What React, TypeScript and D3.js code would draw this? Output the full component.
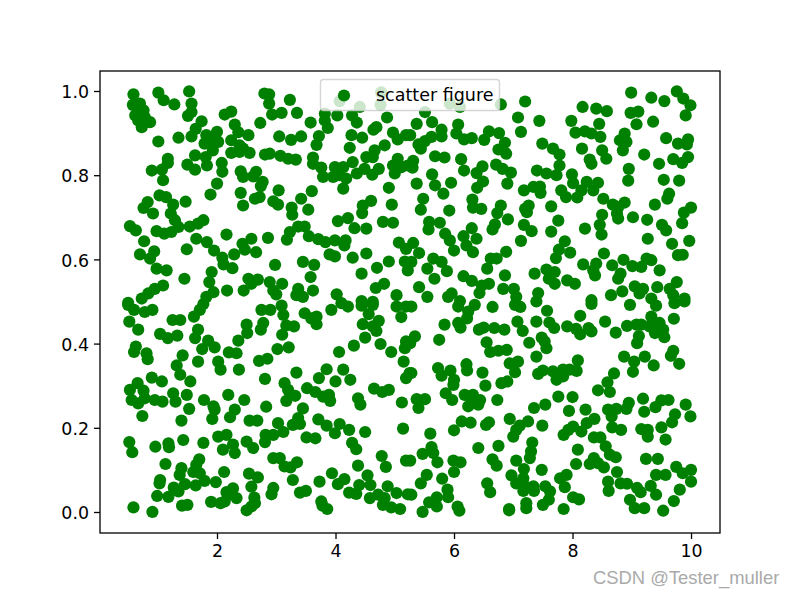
import React, { useEffect, useRef } from "react";
import * as d3 from "d3";

type P = [number, number];

const seriesLabel = "scatter figure";
const watermark = "CSDN @Tester_muller";
const xTicks = [2, 4, 6, 8, 10];
const yTicks = [0, 0.2, 0.4, 0.6, 0.8, 1.0];

const upperLeft: P[] = [
[.59,.993],[1.01,.997],[1.53,1.0],[1.10,.979],[1.28,.969],[1.57,.971],[1.57,.951],[1.51,.942],[.58,.968],[.70,.971],[.76,.955],[.62,.943],[.67,.931],[.73,.915],[.87,.927],[.78,.939],[.67,.951],
[1.01,.881],[1.35,.890],[1.57,.893],[1.74,.929],[1.64,.911],[2.13,.945],[2.24,.952],[2.30,.921],[2.36,.903],[2.53,.896],[1.82,.896],[2.0,.904],[1.79,.876],[1.93,.860],[2.02,.880],[1.91,.884],[1.82,.880],
[2.24,.884],[2.38,.872],[2.24,.854],[2.38,.856],[2.55,.854],[2.44,.864],[2.80,.995],[2.88,.993],[2.88,.971],[3.23,.980],[3.09,.949],[2.93,.945],[3.35,.949],[2.73,.925],[3.58,.926],[3.82,.947],[3.82,.931],[3.87,.913],[4.03,.943],[4.28,.943],[4.36,.926],[4.87,.938],
[4.07,.977],[4.41,.963],[4.76,.968],[4.77,.998],[4.69,.915],[4.64,.909],[3.05,.893],[3.25,.885],[3.42,.893],[3.72,.894],[3.68,.873],[4.27,.896],[4.45,.890],[4.24,.866],[4.97,.902],[5.05,.886],[4.83,.872],[4.66,.860],[4.52,.844],[4.63,.844],[5.19,.896],
[2.81,.850],[2.89,.852],[3.07,.847],[3.20,.840],[3.33,.838],[3.62,.843],[3.62,.828],[3.76,.819],[3.79,.797],[3.99,.820],[3.96,.797],[4.13,.820],[4.29,.832],[4.18,.793],[4.07,.801],[4.13,.769],[4.36,.805],[4.49,.816],[4.62,.802],[4.73,.816],
[4.97,.824],[5.05,.840],[5.0,.805],[5.11,.820],[5.22,.824],[4.90,.771],[4.95,.731],[1.17,.840],[1.17,.830],[.90,.812],[1.07,.814],[1.09,.789],[1.50,.826],[1.63,.814],[1.63,.848],[1.81,.844],[1.83,.824],[2.08,.830],[2.09,.809],[2.0,.781],[1.89,.755],
[2.40,.810],[2.44,.797],[2.66,.809],[2.61,.798],[2.77,.785],[2.74,.775],[3.04,.765],[2.40,.759],[2.44,.729],[2.64,.745],[2.72,.749],[2.95,.739],[3.03,.731],[3.42,.745],[3.60,.763],[3.54,.719],[3.26,.724],[3.27,.707],[4.60,.740],[4.46,.729],[4.45,.711],
[1.03,.753],[1.14,.749],[.83,.737],[.76,.723],[.92,.710],[1.47,.738],[1.26,.731],[1.22,.710],[.53,.680],[.63,.670],[.98,.668],[1.11,.662],[1.23,.666],[1.35,.678],[1.29,.694],[1.54,.679],[1.68,.686],[1.77,.694],
[.77,.644],[.70,.613],[.94,.620],[.87,.603],[.98,.579],[1.15,.575],[1.49,.625],[1.65,.650],[1.83,.642],[1.95,.622],[2.09,.605],[2.16,.660],[2.11,.589],[2.26,.580],[2.29,.613],[2.43,.638],[2.58,.650],[2.47,.624],[2.66,.618],[2.86,.652],
[3.23,.666],[3.18,.648],[3.37,.679],[3.48,.679],[3.55,.656],[3.71,.649],[3.83,.642],[3.99,.646],[4.15,.634],[4.17,.646],[4.04,.692],[4.21,.699],[4.32,.675],[4.52,.674],[4.80,.690],[4.97,.688],
[5.07,.641],[5.19,.626],[3.90,.613],[3.99,.608],[4.29,.605],[4.52,.615],[4.90,.596],[5.17,.596],[4.70,.581],[4.44,.567],[5.22,.575],[2.98,.588],[3.45,.595],[3.64,.588],[3.58,.559],
[1.91,.571],[1.45,.555],[1.87,.547],[1.09,.539],[.95,.531],[.84,.520],[.73,.508],[.50,.498],[1.94,.523],[1.82,.512],[2.17,.527],[2.53,.555],[2.69,.553],[2.58,.543],[2.45,.527],[2.89,.547],[3.10,.543],[2.95,.527],[3.0,.518],[3.37,.531],[3.34,.516],[3.45,.512],[3.62,.527],[4.02,.518],[4.68,.533],[4.82,.543],[5.03,.516],[4.44,.502],[4.63,.500],
];

const upperRight: P[] = [
[5.51,.951],[5.93,.971],[6.10,.963],[6.79,.969],[7.20,.976],[5.37,.923],[5.63,.927],[5.79,.909],[5.79,.893],[5.62,.892],[5.51,.882],[5.40,.874],[5.44,.864],[5.26,.896],
[6.07,.921],[6.04,.900],[6.17,.886],[6.30,.889],[6.51,.885],[6.59,.905],[6.76,.901],[6.86,.878],[6.75,.862],[6.88,.852],[6.71,.826],[6.82,.816],[6.96,.807],[6.90,.781],[7.08,.938],[7.44,.930],[7.13,.904],
[5.68,.846],[5.84,.843],[5.31,.835],[5.30,.819],[5.63,.803],[5.68,.777],[5.37,.781],[5.95,.783],[5.82,.757],[6.12,.839],[6.17,.812],[6.38,.806],[6.48,.822],[6.49,.786],[6.39,.771],
[5.48,.745],[5.44,.719],[5.92,.717],[6.31,.743],[6.32,.724],[6.46,.721],[6.79,.729],[6.73,.711],[6.91,.696],[6.69,.684],[6.65,.672],[7.49,.876],[7.67,.864],[7.78,.850],[7.78,.824],[7.40,.812],[7.56,.805],[7.73,.801],
[7.18,.765],[7.34,.773],[7.45,.774],[7.46,.759],[7.81,.765],[7.89,.749],[7.99,.803],[8.01,.782],[8.08,.748],[8.15,.765],[8.24,.785],[8.35,.765],[8.43,.783],[8.52,.745],
[7.98,.930],[8.17,.963],[8.40,.959],[8.58,.953],[8.45,.923],[8.05,.902],[8.21,.905],[8.32,.900],[8.47,.892],[8.16,.864],[8.50,.860],[8.57,.840],[8.29,.838],[8.32,.828],
[8.99,.997],[9.33,.985],[9.55,.977],[9.76,1.0],[9.87,.983],[9.99,.967],[9.91,.943],[8.98,.949],[9.11,.952],[9.08,.922],[9.36,.928],[8.88,.900],[8.80,.884],[8.91,.880],[8.85,.860],[9.21,.850],[9.46,.828],
[9.58,.889],[9.78,.876],[9.95,.886],[9.93,.874],[9.70,.839],[9.85,.830],[9.95,.844],[8.95,.816],[8.94,.788],[9.54,.790],[9.80,.788],[9.63,.757],[9.60,.745],[9.39,.731],[10.0,.724],[9.88,.712],[9.85,.687],
[8.68,.731],[8.88,.736],[8.77,.725],[8.75,.710],[8.77,.698],[8.50,.707],[8.46,.683],[8.49,.660],[8.21,.674],[9.02,.701],[9.26,.695],[9.51,.683],[9.58,.670],[9.27,.650],[9.68,.638],[9.97,.645],[9.78,.611],[9.86,.612],
[7.64,.727],[7.76,.693],[7.64,.667],[7.26,.729],[7.20,.721],[7.23,.713],[7.18,.683],[7.31,.668],[7.13,.645],[5.58,.690],[5.76,.688],[5.57,.672],[5.85,.662],[5.93,.646],[6.0,.622],[6.30,.675],[6.16,.656],[6.38,.650],[6.21,.634],[6.32,.618],
[5.31,.640],[5.41,.616],[5.28,.595],[5.55,.579],[5.65,.603],[5.79,.595],[5.88,.573],[5.67,.555],[5.41,.535],[5.55,.512],[6.16,.561],[6.30,.550],[6.47,.539],[6.59,.543],[6.43,.521],[5.96,.520],[5.90,.512],[6.10,.502],
[6.62,.603],[6.72,.603],[6.56,.579],[6.88,.619],[6.86,.563],[6.83,.531],[7.01,.531],[7.05,.512],[7.42,.521],[7.36,.567],[7.87,.644],[7.77,.624],[7.72,.604],[7.96,.617],[8.53,.615],[8.18,.589],[8.40,.591],[8.35,.575],[8.38,.563],[8.67,.587],[8.81,.567],[8.77,.555],
[7.56,.577],[7.70,.571],[7.60,.555],[7.70,.543],[7.91,.551],[8.04,.543],[8.86,.600],[9.01,.585],[9.16,.583],[9.25,.603],[9.33,.599],[9.47,.575],[9.05,.537],[9.19,.531],[9.13,.520],[9.43,.535],[8.84,.525],[8.65,.516],[8.32,.504],[9.33,.508],[9.64,.531],[9.76,.547],[9.70,.516],[9.89,.508],
];

const lowerLeft: P[] = [
[.50,.493],[.60,.481],[.78,.476],[.91,.481],[.52,.453],[.67,.434],[1.71,.481],[1.77,.495],[1.61,.465],[1.25,.457],[1.38,.457],[1.04,.424],[1.17,.414],[1.33,.420],[1.68,.434],[1.63,.414],[1.85,.408],[1.75,.388],[1.96,.392],
[.63,.394],[.60,.381],[.81,.378],[.83,.364],[1.42,.373],[1.32,.349],[1.68,.358],[1.38,.327],[2.02,.358],[2.06,.339],[2.20,.380],[2.33,.378],[2.36,.408],[2.50,.446],[2.51,.426],[2.37,.339],
[2.75,.481],[2.90,.481],[3.09,.491],[3.12,.469],[2.78,.450],[2.74,.434],[3.17,.444],[3.30,.442],[3.10,.422],[3.48,.473],[3.68,.465],[3.68,.447],[3.59,.461],[3.93,.481],[4.10,.497],[4.21,.489],[4.44,.491],[4.63,.493],[4.56,.471],[4.46,.447],[4.73,.455],[4.63,.442],[4.69,.431],[4.50,.415],[4.31,.396],[4.06,.381],[4.76,.400],[4.94,.381],
[5.03,.489],[5.11,.464],[5.19,.489],[5.19,.406],[5.17,.390],[5.15,.358],[5.19,.319],[5.25,.331],[3.02,.388],[3.21,.392],[2.71,.360],[2.85,.365],[3.34,.332],[2.81,.317],[3.14,.307],[3.20,.291],[3.32,.277],[3.17,.265],
[3.85,.340],[3.72,.319],[4.13,.339],[4.25,.315],[4.0,.311],[3.52,.295],[3.66,.286],[3.79,.275],[3.89,.279],[3.91,.265],[4.65,.294],[4.79,.286],[4.90,.291],[4.38,.271],[4.42,.256],[5.12,.261],
[.90,.320],[1.07,.311],[.66,.307],[.53,.291],[.76,.289],[.56,.267],[.67,.259],[.78,.271],[.95,.267],[1.08,.263],[.74,.229],[1.26,.283],[1.30,.263],[1.49,.279],[1.55,.311],[1.53,.246],[1.40,.218],
[1.78,.267],[2.19,.279],[2.46,.267],[1.94,.252],[1.96,.244],[1.92,.222],[2.30,.244],[2.22,.226],[2.83,.251],[2.55,.218],[2.68,.218],[3.45,.247],[3.37,.224],[3.40,.210],[3.28,.208],[3.03,.212],[3.12,.191],[2.95,.184],[2.82,.184],[2.81,.167],
[3.71,.221],[3.85,.206],[3.99,.188],[4.07,.210],[4.23,.196],[4.50,.191],[5.14,.199],[3.51,.178],[3.66,.176],[4.28,.165],[4.35,.150],[.52,.167],[.57,.143],[.96,.156],[1.18,.164],[1.19,.155],[1.43,.172],[1.77,.165],
[2.02,.180],[2.16,.184],[2.10,.149],[2.27,.161],[2.30,.141],[2.50,.168],[2.61,.153],[2.95,.129],[3.06,.129],[3.14,.109],[3.24,.107],[3.35,.119],[4.78,.134],[4.85,.108],[5.19,.123],[4.38,.111],
[1.13,.115],[1.40,.105],[1.37,.089],[1.70,.126],[1.65,.113],[1.60,.096],[1.71,.093],[2.12,.096],[1.04,.077],[1.03,.069],[1.27,.059],[1.46,.067],[1.35,.050],[1.64,.064],[1.79,.075],[1.98,.072],
[2.54,.092],[2.69,.083],[2.58,.061],[3.28,.077],[2.95,.058],[2.92,.043],[3.40,.047],[3.50,.051],[3.73,.073],[3.94,.093],[4.04,.067],[4.15,.079],[4.54,.088],[4.59,.065],[4.40,.065],[4.23,.047],[4.35,.044],
[4.88,.062],[5.03,.046],[5.22,.043],[4.58,.034],[4.72,.042],[4.83,.034],[4.80,.018],[4.94,.012],[5.09,.008],[.99,.039],[1.18,.037],[.59,.012],[.91,.001],[1.41,.016],[1.50,.018],
[1.90,.025],[2.06,.022],[2.13,.026],[2.16,.048],[2.27,.057],[2.24,.043],[2.33,.034],[2.63,.035],[2.64,.022],[2.50,.005],[2.58,.014],[3.76,.026],[3.78,.016],[3.86,.008],
];

const lowerRight: P[] = [
[5.28,.489],[5.34,.418],[5.26,.402],[5.75,.410],[5.84,.446],[6.07,.489],[6.35,.493],[6.24,.477],[6.22,.461],[6.07,.450],[6.11,.439],[6.65,.488],[6.42,.434],[6.50,.439],[6.68,.438],[6.85,.434],[6.55,.404],[6.61,.381],[6.75,.384],[6.89,.386],
[7.03,.493],[7.12,.488],[7.07,.453],[7.16,.431],[7.39,.501],[7.39,.453],[7.57,.479],[7.61,.451],[7.69,.438],[7.27,.403],[7.48,.415],[7.53,.406],[7.56,.390],[7.39,.370],
[7.91,.442],[8.06,.436],[8.13,.423],[8.27,.438],[8.32,.430],[8.13,.467],[8.32,.495],[8.55,.453],[8.73,.427],[8.97,.493],[9.41,.491],[9.72,.497],[9.89,.501],[9.71,.460],
[8.92,.443],[9.08,.446],[9.16,.446],[9.33,.465],[9.30,.442],[9.47,.450],[9.39,.426],[9.53,.434],[9.55,.416],[9.36,.446],[9.12,.419],[9.09,.402],[8.87,.370],[9.04,.358],[9.22,.370],[9.37,.349],[9.02,.334],[9.70,.384],[9.66,.372],[9.80,.353],
[8.09,.361],[8.07,.336],[7.42,.329],[7.50,.337],[7.67,.335],[7.73,.315],[7.84,.323],[7.84,.339],[7.95,.339],[6.94,.354],[7.08,.358],[7.03,.333],[6.80,.307],[6.90,.311],
[5.73,.343],[5.79,.325],[5.94,.337],[6.0,.315],[5.99,.303],[6.21,.352],[6.22,.337],[6.48,.332],[6.53,.301],[5.28,.331],[5.86,.283],[5.97,.267],[5.37,.269],[5.51,.269],[5.40,.248],
[6.18,.279],[6.32,.279],[6.24,.252],[6.30,.267],[6.44,.267],[6.41,.256],[6.73,.267],[8.70,.330],[8.59,.309],[8.43,.290],[8.63,.286],[7.76,.275],[8.0,.274],[7.94,.241],[7.35,.248],[7.54,.256],[8.22,.244],[8.37,.222],
[8.60,.244],[8.74,.246],[8.66,.228],[8.91,.246],[8.95,.260],[9.19,.270],[9.21,.239],[9.40,.250],[9.50,.266],[9.62,.267],[9.91,.256],[9.99,.228],[9.73,.233],[9.68,.214],[9.50,.202],[9.57,.173],
[8.67,.202],[8.82,.196],[9.16,.198],[9.27,.196],[9.27,.180],[6.94,.222],[7.25,.216],[7.11,.206],[7.05,.196],[7.0,.180],[7.49,.206],[6.13,.216],[6.28,.213],[6.54,.208],[6.59,.214],[6.0,.195],[5.60,.187],
[8.01,.204],[7.85,.184],[8.15,.192],[8.24,.212],[7.93,.196],[8.36,.178],[8.47,.178],[8.56,.157],[8.63,.137],[8.73,.131],[8.09,.149],[8.06,.115],[8.29,.115],[8.36,.129],[8.43,.117],[8.53,.107],[8.75,.096],
[9.24,.127],[9.44,.127],[9.75,.108],[10.0,.101],[9.86,.093],[10.0,.073],[9.41,.089],[9.57,.089],[6.41,.153],[6.75,.158],[7.32,.166],[7.30,.145],[7.28,.129],[6.65,.126],[6.72,.111],[7.05,.123],[7.48,.101],[7.18,.103],
[5.62,.155],[5.47,.139],[5.65,.141],[5.72,.119],[5.26,.123],[5.99,.123],[6.11,.119],[6.0,.096],[5.54,.089],[5.44,.069],[5.80,.080],[5.89,.054],[5.90,.036],[5.28,.042],[5.58,.024],[5.71,.036],[5.71,.014],[5.47,.001],[6.06,.014],[6.09,.004],
[6.56,.069],[6.61,.048],[6.97,.088],[7.05,.069],[7.17,.081],[7.20,.062],[7.17,.051],[7.34,.062],[7.35,.051],[7.54,.062],[7.62,.050],[7.60,.030],[7.50,.018],[7.22,.022],[7.22,.010],[6.93,.008],[6.93,.005],[7.85,.008],[8.01,.036],[8.11,.031],
[7.90,.089],[7.79,.081],[7.87,.060],[8.60,.073],[8.61,.051],[8.81,.069],[8.92,.068],[9.09,.058],[9.15,.048],[9.32,.063],[9.41,.042],[9.81,.054],[9.71,.027],[8.97,.030],[9.05,.010],[9.21,.010],[9.53,.004],
];

const points: P[] = [...upperLeft, ...upperRight, ...lowerLeft, ...lowerRight];

const W = 795, H = 596;
const box = { left: 100, right: 720, top: 71, bottom: 533 };
const GREEN = "#008000";
const FONT = "'DejaVu Sans', sans-serif";

export default function App() {
  const ref = useRef<SVGSVGElement>(null);
  useEffect(() => {
    const svg = d3.select(ref.current!);
    svg.selectAll("*").remove();
    const x = d3.scaleLinear().domain([0.0253, 10.489]).range([box.left, box.right]);
    const y = d3.scaleLinear().domain([-0.0499, 1.0475]).range([box.bottom, box.top]);

    svg.append("g").selectAll("circle").data(points).join("circle")
      .attr("cx", d => x(d[0])).attr("cy", d => y(d[1]) + 0.4).attr("r", 6.1).attr("fill", GREEN);

    const xAxis = d3.axisBottom(x).tickValues(xTicks).tickSize(6).tickPadding(6).tickFormat(d3.format("d") as any);
    const yAxis = d3.axisLeft(y).tickValues(yTicks).tickSize(6).tickPadding(5).tickFormat(d3.format(".1f") as any);
    const gx = svg.append("g").attr("transform", `translate(0,${box.bottom})`).call(xAxis);
    const gy = svg.append("g").attr("transform", `translate(${box.left},0)`).call(yAxis);
    [gx, gy].forEach(g => {
      g.select(".domain").remove();
      g.selectAll("line").attr("stroke", "#000").attr("stroke-width", 1.3);
      g.selectAll("text").attr("fill", "#000").attr("font-family", FONT).attr("font-size", 17.4);
    });
    gy.selectAll("text").attr("dy", "0.38em");
    svg.append("rect").attr("x", box.left).attr("y", box.top)
      .attr("width", box.right - box.left).attr("height", box.bottom - box.top)
      .attr("fill", "none").attr("stroke", "#000").attr("stroke-width", 1.3);

    const legend = svg.append("g");
    legend.append("rect").attr("x", 320.5).attr("y", 79.5).attr("width", 179).attr("height", 31).attr("rx", 3)
      .attr("fill", "#fff").attr("fill-opacity", 0.8).attr("stroke", "#ccc").attr("stroke-opacity", 0.8).attr("stroke-width", 1.4);
    legend.append("circle").attr("cx", 344).attr("cy", 95.5).attr("r", 6.1).attr("fill", GREEN);
    legend.append("text").attr("x", 376).attr("y", 100.5).attr("font-family", FONT).attr("font-size", 17.5).attr("fill", "#000").text(seriesLabel);

    svg.append("text").attr("x", 593).attr("y", 584).attr("font-family", "'Liberation Sans', Arial, sans-serif")
      .attr("font-size", 18.4).attr("fill", "#aaaaaa").text(watermark);
  }, []);
  return <svg ref={ref} width={W} height={H} style={{ position: "absolute", left: 0, top: 0, background: "#fff" }} />;
}
